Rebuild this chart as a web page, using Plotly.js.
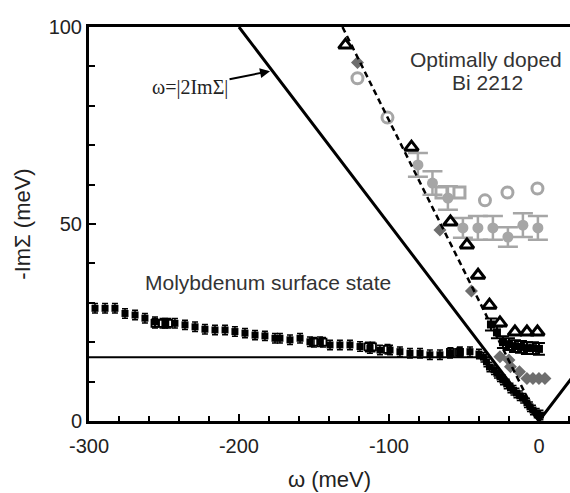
<!DOCTYPE html>
<html><head><meta charset="utf-8">
<script src="https://cdn.plot.ly/plotly-3.0.1.min.js"></script>
<style>body{margin:0;padding:0;background:#fff}#chart{width:570px;height:493px}</style>
</head><body><div id="chart"></div>
<script>
// Reference lines
const vLineX = [-200, 0, 22];
const vLineY = [100, 0, 11];
const hLineX = [-300, -32];
const hLineY = [16.2, 16.2];
const dashX = [-131, 0];
const dashY = [100, 0];

// Molybdenum surface state (filled)
const moX = [-296,-289.3,-282.7,-276,-269.3,-262.7,-256,-249.3,-242.7,-236,-229.3,-222.7,-216,-209.3,-202.7,-196,-189.3,-182.7,-176,
             -172.7,-166,-159.3,-152.7,-146,-139.3,-132.7,-126,-119.3,-112.7,-106,-99.3,-92.7,-86,-79.3,-72.7,-66,-59.3,-52.7,-46,
             -40,-37,-35,-33,-30,-28,-26,-24,-21.5,-19,-17,-15,-12.8,-10.5,-8,-6,-4,-1.5,1];
const moY = [28.6,28.6,28.6,27.3,26.9,26.1,25.2,24.8,24.8,24.4,23.9,23.3,23.1,23.1,22.7,22.3,21.8,21.6,21.0,
             21.0,20.6,21.0,20.1,20.1,19.3,19.3,19.3,18.9,18.4,18.0,18.0,17.6,17.2,17.2,16.8,16.8,17.2,17.6,17.6,
             17.0,16.2,15.0,13.7,13.0,12.1,11.2,10.4,9.4,8.4,7.8,7.1,6.4,5.8,4.6,3.6,2.8,2.0,1.5];
// Molybdenum (open squares)
const moSqX = [-256,-251,-247,-150,-144,-114,-111,-101,-59,-53];
const moSqY = [24.8,24.8,24.8,20,20,18.8,18.8,18.2,17.4,17.4];

// Bi2212 open triangles
const triX = [-129,-85,-59,-48,-40.6,-33,-26,-16,-8,-1];
const triY = [95.4,69.5,50.5,44.7,37,29.4,24.9,22.6,22.6,22.6];
// Bi2212 black filled squares
const bsqX = [-32,-28,-24,-20,-16,-12,-8,-4,0];
const bsqY = [24.5,22.5,20,19.5,19,18.8,18.5,18.5,18.3];
// Gray filled circles with error bars
const gcX = [-80.7,-71,-60.7,-50.7,-40.7,-30.7,-20.7,-10.7,-0.7];
const gcY = [65,60.4,56.6,49,49,49,46.7,49.7,49];
const gcErr = [3,3,3,2.5,3,3,2.5,3,3];
// Gray open squares
const gsX = [-65,-53];
const gsY = [58,58];
// Light gray open circles
const ocX = [-121,-101,-36,-21,-1];
const ocY = [87,77,56,58,59];
// Dark gray diamonds
const dgX = [-121,-66,-45,-26,-20,-19,-13,-8,-4,0,4];
const dgY = [91,48.5,33,16.3,15.5,13.8,12.5,10.8,10.8,10.8,10.8];

const black = '#000';
const lg = '#a6a6a6';
const dg = '#6e6e6e';

const traces = [
  {x: hLineX, y: hLineY, mode: 'lines', line: {color: black, width: 2}},
  {x: vLineX, y: vLineY, mode: 'lines', line: {color: black, width: 3}},
  {x: gcX, y: gcY, mode: 'markers', marker: {symbol: 'circle', size: 11, color: lg},
   error_y: {type: 'data', array: gcErr, color: lg, thickness: 2.5, width: 10}},
  {x: gsX, y: gsY, mode: 'markers', marker: {symbol: 'square-open', size: 11, color: lg, line: {width: 3, color: lg}}},
  {x: ocX, y: ocY, mode: 'markers', marker: {symbol: 'circle-open', size: 11, color: lg, line: {width: 3, color: lg}}},
  {x: dgX, y: dgY, mode: 'markers', marker: {symbol: 'diamond', size: 10, color: dg}},
  {x: moX, y: moY, mode: 'markers', marker: {symbol: 'square', size: 7, color: black},
   error_y: {type: 'constant', value: 1.2, color: black, thickness: 1.5, width: 3}},
  {x: moSqX, y: moSqY, mode: 'markers', marker: {symbol: 'square-open', size: 7, color: black, line: {width: 1.8, color: black}},
   error_y: {type: 'constant', value: 1.2, color: black, thickness: 1.5, width: 3}},
  {x: dashX, y: dashY, mode: 'lines', line: {color: black, width: 2.5, dash: '6px,4px'}},
  {x: bsqX, y: bsqY, mode: 'markers', marker: {symbol: 'square', size: 8, color: black},
   error_y: {type: 'constant', value: 1.5, color: black, thickness: 2, width: 6}},
  {x: triX, y: triY, mode: 'markers', marker: {symbol: 'triangle-up-open', size: 12, color: black, line: {width: 3, color: black}}}
];

const sans = 'Liberation Sans, Arial, sans-serif';
const tickFont = {family: sans, size: 20, color: '#222'};
const layout = {
  width: 570, height: 493,
  margin: {l: 89, r: 0, t: 27, b: 72},
  paper_bgcolor: '#fff', plot_bgcolor: '#fff',
  showlegend: false,
  font: {family: sans, color: '#222'},
  xaxis: {
    range: [-300, 20.7], tickvals: [-300, -200, -100, 0], ticktext: ['-300', '-200', '-100', '0'],
    ticks: 'inside', ticklen: 7, tickwidth: 2, tickcolor: black, ticklabelstandoff: 5,
    minor: {dtick: 20, tick0: 0, ticks: 'inside', ticklen: 5, tickwidth: 2, tickcolor: black},
    showline: true, linewidth: 3, linecolor: black, mirror: true,
    showgrid: false, zeroline: false, tickfont: tickFont,
    title: {text: 'ω (meV)', font: {family: sans, size: 22, color: '#222'}, standoff: 16}
  },
  yaxis: {
    range: [0, 100], tickvals: [0, 50, 100], ticktext: ['0', '50', '100'],
    ticks: 'inside', ticklen: 7, tickwidth: 2, tickcolor: black,
    minor: {dtick: 10, tick0: 0, ticks: 'inside', ticklen: 6, tickwidth: 2, tickcolor: black},
    showline: true, linewidth: 3, linecolor: black, mirror: false,
    showgrid: false, zeroline: false, tickfont: tickFont,
    title: {text: '-ImΣ (meV)', font: {family: sans, size: 22, color: '#222'}, standoff: 12}
  },
  annotations: [
    {x: -35, y: 91.8, xref: 'x', yref: 'y', text: 'Optimally doped', showarrow: false,
     font: {family: sans, size: 21, color: '#333'}},
    {x: -34, y: 86, xref: 'x', yref: 'y', text: 'Bi 2212', showarrow: false,
     font: {family: sans, size: 21, color: '#333'}},
    {x: -180.5, y: 35.2, xref: 'x', yref: 'y', text: 'Molybdenum surface state', showarrow: false,
     font: {family: sans, size: 21, color: '#333'}},
    {x: -179.3, y: 88.8, xref: 'x', yref: 'y', text: 'ω=|2ImΣ|', showarrow: true,
     ax: -80, ay: 16, arrowhead: 2, arrowsize: 1, arrowwidth: 2, arrowcolor: black, standoff: 0,
     font: {family: 'Liberation Serif, Times New Roman, serif', size: 20, color: '#222'}}
  ]
};
Plotly.newPlot('chart', traces, layout, {staticPlot: true, displayModeBar: false});
</script></body></html>
